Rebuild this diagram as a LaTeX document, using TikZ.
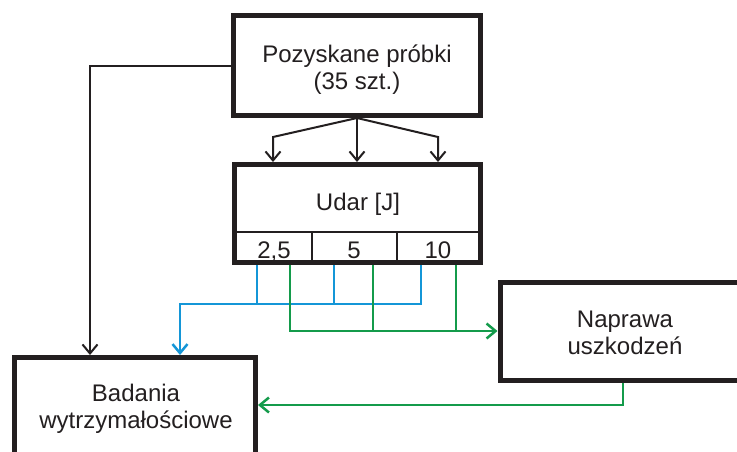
\documentclass[tikz,border=0pt]{standalone}
\usepackage{fontspec}
\setmainfont{Liberation Sans}
\usetikzlibrary{arrows.meta}
\definecolor{lblue}{RGB}{20,150,215}
\definecolor{lgreen}{RGB}{20,155,75}
\definecolor{ink}{RGB}{35,31,32}
\tikzset{
  box/.style={draw=ink, line width=5pt, inner sep=0pt, fill=white},
  txt/.style={text=ink, align=center, inner sep=0pt, font=\fontsize{24}{27}\selectfont},
  divline/.style={draw=ink, line width=2.5pt},
  arr/.style={-{Straight Barb[length=9pt,width=15pt]}},
  blk/.style={draw=ink, line width=2pt},
  bl/.style={draw=lblue, line width=2.5pt},
  gr/.style={draw=lgreen, line width=2.5pt}
}
\begin{document}
\begin{tikzpicture}[x=1pt,y=-1pt]
\useasboundingbox (0,0) rectangle (737,451);
\clip (0,0) rectangle (737,451);
\fill[white] (0,0) rectangle (737,451);
% boxes
\node[box, minimum width=247pt, minimum height=100pt] (top) at (357,65.5) {};
\node[txt] (toptxt) at (357,70) {Pozyskane próbki\\(35 szt.)};
\node[box, minimum width=246pt, minimum height=98pt] (udar) at (357.5,213.5) {};
\node[txt, anchor=base] (udartxt) at (358,210) {Udar [J]};
\draw[divline] (udar.west |- 0,232) -- (udar.east |- 0,232);
\draw[divline] (312,232) -- (312,0 |- udar.south);
\draw[divline] (397,232) -- (397,0 |- udar.south);
\node[txt, anchor=base] (v1) at (274,258) {2,5};
\node[txt, anchor=base] (v2) at (354,258) {5};
\node[txt, anchor=base] (v3) at (438,258) {10};
\node[box, minimum width=250pt, minimum height=98pt] (nap) at (625,331) {};
\node[txt] (naptxt) at (625,333) {Naprawa\\uszkodzeń};
\node[box, minimum width=241pt, minimum height=100pt] (bad) at (135,407.5) {};
\node[txt] (badtxt) at (136,409) {Badania\\wytrzymałościowe};
% redraw udar dividers on top of white fill handled; connectors
\coordinate (tl) at (273,137);
\coordinate (tr) at (438,137);
\draw[blk,arr] (top.south) -- (tl) -- (tl |- udar.north);
\draw[blk,arr] (top.south) -- (top.south |- udar.north);
\draw[blk,arr] (top.south) -- (tr) -- (tr |- udar.north);
\coordinate (lk) at (90,65.5);
\draw[blk,arr] (top.west) -- (lk) -- (lk |- bad.north);
% blue
\coordinate (bj) at (180,304);
\draw[bl] (257,0 |- udar.south) -- (257,304);
\draw[bl] (334,0 |- udar.south) -- (334,304);
\draw[bl,arr] (421,0 |- udar.south) |- (bj) -- (bj |- bad.north);
% green
\draw[gr] (373,0 |- udar.south) -- (373,331);
\draw[gr] (456,0 |- udar.south) -- (456,331);
\draw[gr,arr] (290,0 |- udar.south) |- (nap.west);
\coordinate (gj) at (623,405);
\draw[gr,arr] (gj |- nap.south) -- (gj) -- (gj -| bad.east);
\end{tikzpicture}
\end{document}
